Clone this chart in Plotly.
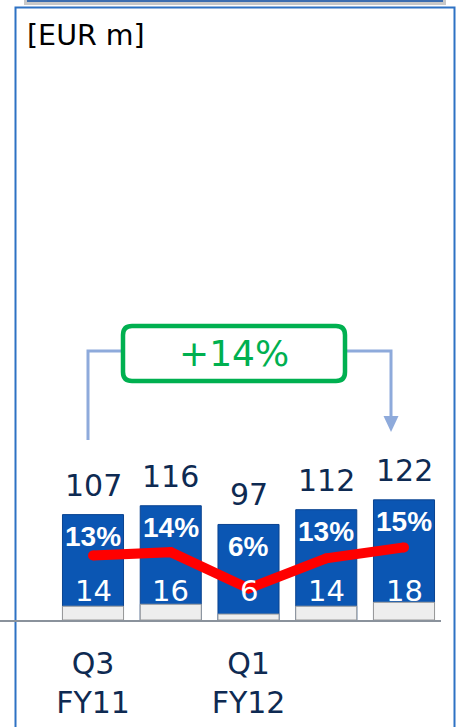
import plotly.graph_objects as go

# ---- data ----
quarters = ["Q3<br>FY11", "", "Q1<br>FY12", "", ""]
revenue = [107, 116, 97, 112, 122]
ebit = [14, 16, 6, 14, 18]
margin_labels = ["13%", "14%", "6%", "13%", "15%"]
margin_pct = [13.1, 13.8, 6.2, 12.5, 14.8]
growth_label = "+14%"
unit_label = "[EUR m]"

W, H = 463, 727
NAVY = "#0E2A52"
BLUE = "#0B56B3"
GREEN = "#00B050"
BRACKET = "#8EAADB"
FONT = "DejaVu Sans"
BOLDFONT = "Liberation Sans"

def px(x):
    return x / W

def py(y):
    return (H - y) / H

# axis geometry (pixels)
C0, STEP = 93.0, 77.75
BASE, TOP = 620.0, 100.0
SCALE = 0.985
xs = list(range(len(revenue)))
xr = [(0 - C0) / STEP, (441 - C0) / STEP]
yr = [0, (BASE - TOP) / SCALE]
Z2, S2 = 618.0, 4.77
y2r = [(Z2 - BASE) / S2, (Z2 - TOP) / S2]

def xd(p):
    return (p - C0) / STEP

def yd(p):
    return (BASE - p) / SCALE

fig = go.Figure()
fig.add_trace(go.Bar(x=xs, y=revenue, width=0.785,
                     marker=dict(color=BLUE, line=dict(color="#0A4390", width=1)),
                     hoverinfo="skip"))
fig.add_trace(go.Bar(x=xs, y=ebit, width=0.785,
                     marker=dict(color="#EEEEEE", line=dict(color="#9A9A9A", width=1)),
                     hoverinfo="skip"))
fig.add_trace(go.Scatter(x=xs, y=margin_pct, yaxis="y2", mode="lines+markers",
                         line=dict(color="#FF0000", width=10),
                         marker=dict(color="#FF0000", size=10),
                         hoverinfo="skip"))

ann = []
for i in xs:
    ann.append(dict(x=i, y=revenue[i], xref="x", yref="y", text=str(revenue[i]),
                    showarrow=False, yanchor="bottom", yshift=10,
                    font=dict(family=FONT, size=30, color=NAVY)))
    ann.append(dict(x=i, y=revenue[i], xref="x", yref="y", text="<b>%s</b>" % margin_labels[i],
                    showarrow=False, yanchor="middle", yshift=-22,
                    font=dict(family=BOLDFONT, size=28, color="white")))
    ann.append(dict(x=i, y=0, xref="x", yref="y", text=str(ebit[i]),
                    showarrow=False, yanchor="middle", yshift=29,
                    font=dict(family=FONT, size=29, color="white")))
ann.append(dict(x=(xd(123) + xd(345)) / 2, y=yd(353.5), xref="x", yref="y",
                text=growth_label, showarrow=False, yanchor="middle",
                font=dict(family=FONT, size=36, color=GREEN)))
ann.append(dict(x=px(25), y=py(17), xref="paper", yref="paper", text=unit_label,
                showarrow=False, xanchor="left", yanchor="top",
                font=dict(family=FONT, size=28.5, color="black")))

# rounded green box path (data coords)
bx0, bx1, by0, by1 = xd(123), xd(345), yd(381), yd(326)
rx, ry = 9 / STEP, 9 / SCALE
box_path = ("M %f,%f L %f,%f Q %f,%f %f,%f L %f,%f Q %f,%f %f,%f "
            "L %f,%f Q %f,%f %f,%f L %f,%f Q %f,%f %f,%f Z") % (
    bx0 + rx, by1, bx1 - rx, by1, bx1, by1, bx1, by1 - ry,
    bx1, by0 + ry, bx1, by0, bx1 - rx, by0,
    bx0 + rx, by0, bx0, by0, bx0, by0 + ry,
    bx0, by1 - ry, bx0, by1, bx0 + rx, by1)

shapes = [
    # frame
    dict(type="rect", xref="paper", yref="paper", x0=px(15.5), x1=px(454.5),
         y0=py(760), y1=py(7.5), line=dict(color="#2E72C4", width=2), layer="below"),
    # top strip with shadow
    dict(type="rect", xref="paper", yref="paper", x0=px(24), x1=px(446),
         y0=py(5), y1=py(0), fillcolor="#C8C8C8", line=dict(width=0), layer="below"),
    dict(type="rect", xref="paper", yref="paper", x0=px(27), x1=px(443),
         y0=py(2), y1=py(-5), fillcolor="#3B6DB0", line=dict(width=0), layer="below"),
    # bracket lines
    dict(type="path", xref="x", yref="y",
         path="M %f,%f L %f,%f L %f,%f" % (xd(88), yd(440), xd(88), yd(351), xd(123), yd(351)),
         line=dict(color=BRACKET, width=3)),
    dict(type="path", xref="x", yref="y",
         path="M %f,%f L %f,%f L %f,%f" % (xd(345), yd(351), xd(391), yd(351), xd(391), yd(418)),
         line=dict(color=BRACKET, width=3)),
    dict(type="path", xref="x", yref="y",
         path="M %f,%f L %f,%f L %f,%f Z" % (xd(383.5), yd(416), xd(398.5), yd(416), xd(391), yd(432)),
         fillcolor=BRACKET, line=dict(color=BRACKET, width=0)),
    # green box
    dict(type="path", xref="x", yref="y", path=box_path,
         fillcolor="white", line=dict(color=GREEN, width=4.5)),
]

fig.update_layout(
    width=W, height=H, margin=dict(l=0, r=0, t=0, b=0),
    paper_bgcolor="white", plot_bgcolor="rgba(0,0,0,0)",
    barmode="overlay", showlegend=False,
    xaxis=dict(domain=[0, 441 / W], range=xr, tickvals=xs, ticktext=quarters,
               showgrid=False, zeroline=False, showline=True, linecolor="#8A929C",
               linewidth=1.5, ticks="", ticklabelstandoff=16,
               tickfont=dict(family=FONT, size=30, color=NAVY), fixedrange=True),
    yaxis=dict(domain=[py(BASE), py(TOP)], range=yr, visible=False, fixedrange=True),
    yaxis2=dict(domain=[py(BASE), py(TOP)], range=y2r, overlaying="y", visible=False,
                fixedrange=True),
    annotations=ann, shapes=shapes,
)

fig.write_html("out.html", config={"displayModeBar": False},
               post_script="document.body.style.margin='0px';document.body.style.overflow='hidden';")
